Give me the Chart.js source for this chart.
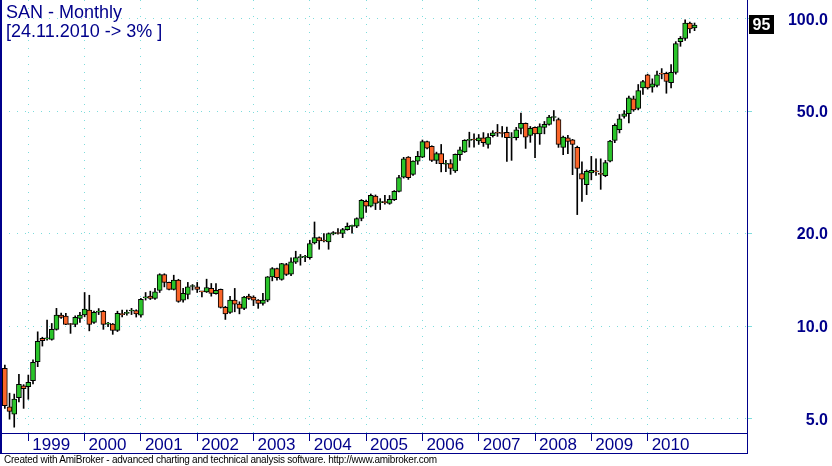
<!DOCTYPE html>
<html>
<head>
<meta charset="utf-8">
<script src="https://cdn.jsdelivr.net/npm/chart.js"></script>
<style>
  html, body { margin: 0; padding: 0; background: #fff; }
  #wrap { position: relative; width: 832px; height: 466px; overflow: hidden; }
  .head { position: absolute; left: 6px; font: 18px/18px "Liberation Sans", Arial, sans-serif; color: #00008b; white-space: pre; }
  #title { top: 3px; }
  #sub { top: 22px; }
  #foot { position: absolute; left: 4px; top: 455px; font: 10px/10px "Liberation Sans", Arial, sans-serif; letter-spacing: -0.24px; color: #000; white-space: pre; }
</style>
</head>
<body>
<div id="wrap">
  <canvas id="chart" width="832" height="466"></canvas>
  <div id="title" class="head">SAN - Monthly</div>
  <div id="sub" class="head">[24.11.2010 -&gt; 3% ]</div>
  <div id="foot">Created with AmiBroker - advanced charting and technical analysis software. http://www.amibroker.com</div>
</div>
<script>
// monthly bars, Aug 1998 .. Nov 2010
const months = [
  '1998-08','1998-09','1998-10','1998-11','1998-12',
  '1999-01','1999-02','1999-03','1999-04','1999-05','1999-06','1999-07','1999-08','1999-09','1999-10','1999-11','1999-12',
  '2000-01','2000-02','2000-03','2000-04','2000-05','2000-06','2000-07','2000-08','2000-09','2000-10','2000-11','2000-12',
  '2001-01','2001-02','2001-03','2001-04','2001-05','2001-06','2001-07','2001-08','2001-09','2001-10','2001-11','2001-12',
  '2002-01','2002-02','2002-03','2002-04','2002-05','2002-06','2002-07','2002-08','2002-09','2002-10','2002-11','2002-12',
  '2003-01','2003-02','2003-03','2003-04','2003-05','2003-06','2003-07','2003-08','2003-09','2003-10','2003-11','2003-12',
  '2004-01','2004-02','2004-03','2004-04','2004-05','2004-06','2004-07','2004-08','2004-09','2004-10','2004-11','2004-12',
  '2005-01','2005-02','2005-03','2005-04','2005-05','2005-06','2005-07','2005-08','2005-09','2005-10','2005-11','2005-12',
  '2006-01','2006-02','2006-03','2006-04','2006-05','2006-06','2006-07','2006-08','2006-09','2006-10','2006-11','2006-12',
  '2007-01','2007-02','2007-03','2007-04','2007-05','2007-06','2007-07','2007-08','2007-09','2007-10','2007-11','2007-12',
  '2008-01','2008-02','2008-03','2008-04','2008-05','2008-06','2008-07','2008-08','2008-09','2008-10','2008-11','2008-12',
  '2009-01','2009-02','2009-03','2009-04','2009-05','2009-06','2009-07','2009-08','2009-09','2009-10','2009-11','2009-12',
  '2010-01','2010-02','2010-03','2010-04','2010-05','2010-06','2010-07','2010-08','2010-09','2010-10','2010-11'
];

const opens = [
  7.29, 5.46, 5.17, 5.85, 6.39,
  6.35, 6.64, 7.66, 9.12, 9.09, 9.05, 9.76, 10.86, 10.78, 10.15, 10.13, 10.59,
  10.88, 11.27, 10.28, 11.10, 11.16, 10.15, 10.15, 9.68, 10.95, 11.00, 11.20, 11.24,
  10.86, 12.35, 12.51, 12.30, 13.06, 14.72, 13.87, 13.16, 14.11, 12.14, 12.68, 13.45,
  13.41, 12.95, 12.92, 13.26, 12.75, 13.16, 11.50, 11.08, 12.14, 11.79, 11.42, 12.51,
  12.42, 12.14, 11.85, 12.14, 14.46, 15.39, 14.18, 15.86, 14.75, 16.15, 16.70, 16.75,
  16.70, 18.64, 19.41, 18.95, 18.80, 19.95, 20.05, 20.00, 20.60, 21.10, 21.12, 22.40,
  25.46, 24.53, 26.50, 25.20, 25.30, 25.08, 25.80, 27.44, 30.50, 35.46, 31.16, 34.40,
  35.46, 39.79, 38.40, 34.59, 36.37, 33.60, 33.75, 31.98, 36.10, 36.89, 40.20, 40.40,
  40.00, 40.98, 38.98, 41.60, 42.50, 42.40, 42.70, 40.90, 40.98, 43.96, 45.62, 41.69,
  44.28, 42.20, 44.30, 45.28, 47.70, 47.00, 38.13, 40.95, 40.35, 38.13, 31.31, 28.84,
  31.50, 31.80, 31.20, 30.83, 34.40, 40.18, 43.51, 48.06, 49.05, 54.86, 51.03, 59.57,
  65.66, 59.83, 60.60, 66.20, 66.43, 61.97, 66.80, 84.19, 86.30, 96.83, 93.29
];

const highs = [
  7.47, 6.05, 6.01, 6.97, 6.45,
  6.93, 7.76, 9.58, 9.20, 10.46, 10.20, 11.42, 11.02, 11.00, 10.20, 10.80, 11.08,
  12.86, 12.60, 11.20, 11.40, 11.25, 10.28, 10.20, 11.18, 11.27, 11.27, 11.42, 11.30,
  12.30, 12.86, 12.99, 13.26, 14.80, 14.80, 13.90, 14.64, 14.20, 13.26, 13.87, 13.65,
  13.87, 12.98, 14.21, 13.76, 13.76, 13.20, 11.60, 12.50, 13.26, 12.00, 12.50, 12.70,
  12.55, 12.20, 12.77, 14.50, 15.50, 15.45, 16.00, 16.00, 16.67, 17.52, 17.10, 17.00,
  19.02, 21.81, 19.50, 20.00, 20.10, 20.30, 20.76, 20.80, 21.65, 21.30, 22.50, 25.80,
  25.70, 26.90, 26.70, 25.98, 26.63, 26.60, 27.60, 30.93, 35.40, 35.60, 34.50, 37.00,
  40.30, 40.00, 38.60, 36.80, 38.98, 34.60, 34.80, 36.30, 38.20, 40.40, 42.73, 42.20,
  42.00, 42.60, 42.30, 43.20, 45.28, 44.60, 44.40, 42.60, 44.30, 49.26, 45.80, 44.60,
  44.50, 45.50, 46.30, 48.50, 50.26, 47.50, 41.50, 41.70, 40.50, 38.50, 34.22, 32.20,
  35.65, 35.00, 35.00, 34.59, 40.20, 45.50, 48.79, 50.26, 56.00, 56.00, 61.07, 63.00,
  66.00, 63.72, 67.50, 68.80, 67.00, 70.90, 84.19, 87.50, 99.04, 97.50, 96.80
];

const lows = [
  5.40, 4.98, 4.69, 5.67, 5.40,
  5.78, 6.48, 7.38, 8.61, 9.00, 9.00, 9.70, 10.60, 10.10, 9.47, 9.95, 10.28,
  10.72, 9.65, 10.20, 10.90, 9.76, 9.95, 9.40, 9.60, 10.72, 10.86, 10.90, 10.70,
  10.70, 12.15, 12.20, 12.20, 12.86, 13.41, 13.10, 13.10, 11.95, 11.97, 12.26, 13.10,
  12.86, 12.45, 12.86, 12.51, 12.70, 11.45, 10.51, 11.00, 11.13, 10.96, 11.30, 12.20,
  11.66, 11.42, 11.70, 12.00, 14.03, 14.10, 14.10, 14.60, 14.60, 15.98, 15.78, 16.20,
  16.50, 18.50, 17.78, 18.80, 17.78, 19.80, 19.90, 19.40, 20.50, 20.05, 20.90, 22.00,
  23.45, 24.40, 23.93, 23.93, 24.90, 24.90, 25.60, 27.30, 30.30, 30.00, 30.90, 33.57,
  35.30, 37.70, 34.30, 33.75, 31.74, 31.80, 31.16, 31.60, 34.59, 36.70, 38.20, 38.20,
  39.00, 38.40, 37.90, 41.20, 41.40, 41.20, 34.33, 34.60, 40.30, 42.20, 37.84, 39.60,
  35.30, 39.00, 42.20, 45.00, 46.50, 38.13, 36.10, 36.37, 31.08, 23.05, 25.46, 26.77,
  29.90, 30.90, 27.85, 30.60, 34.20, 39.50, 42.50, 47.50, 45.80, 50.00, 50.50, 56.66,
  59.00, 57.65, 60.00, 63.72, 57.20, 59.57, 66.00, 81.30, 85.00, 89.87, 91.40
];

const closes = [
  5.51, 5.28, 5.79, 6.47, 6.26,
  6.56, 7.62, 8.92, 8.96, 9.10, 9.76, 10.86, 10.67, 10.13, 10.12, 10.67, 10.86,
  11.36, 10.13, 11.08, 11.15, 10.13, 10.20, 9.68, 11.00, 10.90, 11.08, 11.24, 10.96,
  12.21, 12.40, 12.30, 12.92, 14.72, 13.87, 13.16, 14.11, 12.02, 12.77, 13.41, 13.50,
  13.16, 12.92, 13.35, 12.77, 13.06, 11.50, 10.96, 12.14, 11.79, 11.42, 12.42, 12.30,
  12.15, 11.85, 12.14, 14.46, 15.39, 14.36, 15.98, 14.72, 16.17, 16.70, 16.78, 16.80,
  18.56, 19.41, 18.92, 18.92, 20.00, 20.15, 20.00, 20.60, 21.12, 21.15, 22.37, 25.65,
  24.53, 26.63, 25.08, 25.30, 25.20, 25.84, 27.44, 30.39, 35.03, 30.39, 34.40, 35.65,
  39.79, 37.93, 34.59, 36.37, 33.75, 33.75, 32.56, 36.18, 37.47, 40.18, 40.35, 40.30,
  40.98, 39.48, 41.18, 42.55, 42.40, 42.30, 40.98, 41.00, 43.51, 45.62, 41.18, 43.96,
  42.20, 44.60, 45.28, 47.86, 47.80, 38.98, 41.18, 39.86, 38.98, 32.56, 30.08, 31.86,
  32.10, 31.74, 31.16, 34.00, 39.97, 44.94, 47.25, 49.05, 55.27, 50.53, 58.40, 62.45,
  59.57, 61.37, 65.66, 66.00, 62.45, 66.93, 82.94, 86.30, 96.83, 92.60, 95.39
];

const yTicks = [5, 10, 20, 50, 100];

const navy = '#00008b';
const gridCyan = '#7ddcdc';
const upColor = '#2ac42a';
const downColor = '#fa6428';
const font = { family: '"Liberation Sans", Arial, sans-serif', size: 17 };

// january bars carry the year labels
const janIdx = months.map((m, i) => (m.endsWith('-01') ? i : -1)).filter(i => i >= 0);

// labels sit well inside the plot, so no edge padding is needed for them
function noEdgePadding(s) {
  s.paddingTop = 0;
  s.paddingBottom = 0;
  s.paddingLeft = 0;
  s.paddingRight = 0;
}

// navy frame round plot and date band, plus last-price box
const frame = {
  id: 'frame',
  afterDraw(chart) {
    const { ctx, chartArea: a, scales: { y } } = chart;
    const right = Math.round(a.right);
    const bandBottom = Math.round(a.bottom) + 20;
    ctx.save();
    ctx.fillStyle = navy;
    ctx.fillRect(0, 0, 2, bandBottom + 1);
    ctx.fillRect(right, 0, 1, bandBottom + 1);
    ctx.fillRect(0, Math.round(a.bottom), right + 1, 1);
    ctx.fillRect(0, bandBottom, right + 1, 1);

    const last = closes[closes.length - 1];
    const py = Math.round(y.getPixelForValue(last));
    ctx.fillStyle = '#000';
    ctx.fillRect(right + 2, py - 10, 25, 19);
    ctx.fillStyle = '#fff';
    ctx.font = 'bold 16px "Liberation Sans", Arial, sans-serif';
    ctx.textAlign = 'center';
    ctx.textBaseline = 'middle';
    ctx.fillText(String(Math.round(last)), right + 14.5, py + 0.5);
    ctx.restore();
  }
};

const ctx = document.getElementById('chart').getContext('2d');
new Chart(ctx, {
  type: 'bar',
  data: {
    datasets: [
      {
        label: 'range',
        data: months.map((m, i) => ({ x: i, y: [lows[i], highs[i]] })),
        backgroundColor: '#000',
        barThickness: 1,
        grouped: false,
        order: 2
      },
      {
        label: 'body',
        data: months.map((m, i) => ({ x: i, y: [opens[i], closes[i]] })),
        backgroundColor: months.map((m, i) => (closes[i] >= opens[i] ? upColor : downColor)),
        borderColor: '#000',
        borderWidth: 1,
        borderSkipped: false,
        barThickness: 5,
        minBarLength: 1,
        grouped: false,
        order: 1
      }
    ]
  },
  options: {
    responsive: false,
    animation: false,
    devicePixelRatio: 1,
    layout: { padding: { left: 1, top: 0, right: 4, bottom: 13 } },
    plugins: { legend: { display: false }, tooltip: { enabled: false } },
    scales: {
      x: {
        type: 'linear',
        bounds: 'data',
        min: -0.82,
        max: 158.18,
        offset: false,
        afterBuildTicks: s => { s.ticks = janIdx.map(v => ({ value: v })); },
        afterFit: s => { s.height = 20; noEdgePadding(s); },
        ticks: {
          callback: v => months[v].slice(0, 4),
          align: 'start',
          labelOffset: 4,
          padding: -6,
          maxRotation: 0,
          minRotation: 0,
          autoSkip: false,
          color: navy,
          font
        },
        grid: { offset: false, color: gridCyan, lineWidth: 1, tickColor: navy, tickLength: 8, tickBorderDash: [] },
        border: { display: false, dash: [1, 7] }
      },
      y: {
        type: 'logarithmic',
        position: 'right',
        bounds: 'data',
        min: 4.49,
        max: 115.0,
        afterBuildTicks: s => { s.ticks = yTicks.map(v => ({ value: v })); },
        afterFit: s => { s.width = 81; noEdgePadding(s); },
        ticks: {
          callback: v => Number(v).toFixed(1),
          crossAlign: 'far',
          labelOffset: 1.5,
          color: navy,
          font: { ...font, size: 16, weight: 'bold' }
        },
        grid: { color: gridCyan, lineWidth: 1, tickColor: gridCyan, tickLength: 5, tickBorderDash: [] },
        border: { display: false, dash: [1, 7] }
      }
    }
  },
  plugins: [frame]
});
</script>
</body>
</html>
